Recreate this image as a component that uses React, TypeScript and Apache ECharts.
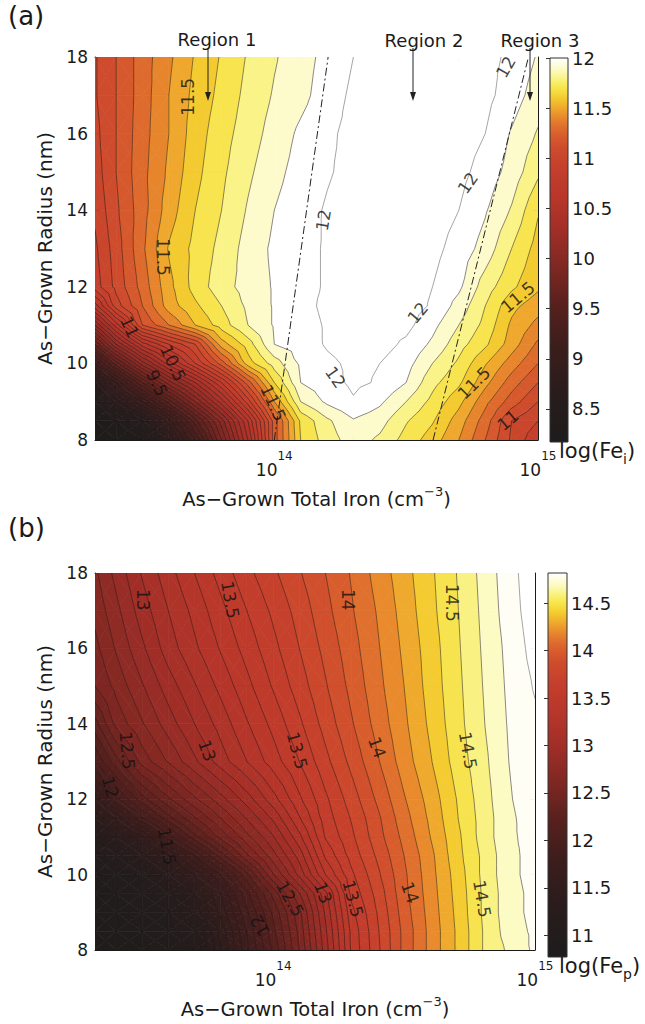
import React, { useEffect, useRef } from "react";
import * as echarts from "echarts";

const FONT = "DejaVu Sans";
const INK = "#1a1a1a";

// Grid columns: log10 of as-grown total iron (cm^-3)
const IRON_EXP = [13.32, 13.4, 13.5, 13.6, 13.7, 13.8, 13.9, 14.0, 14.1, 14.2, 14.3, 14.4, 14.5, 14.6, 14.7, 14.8, 14.9, 15.0];
// Grid rows: as-grown radius (nm)
const RADIUS = [8, 8.5, 9, 9.5, 10, 10.5, 11, 11.5, 12, 13, 14, 15, 16, 17, 18];

// (a) log(Fe_i), one row per radius (bottom to top)
const LOG_FE_I = [
  [8.17, 8.2, 8.3, 8.7, 9.2, 9.8, 10.4, 11.15, 11.6, 11.75, 11.85, 11.78, 11.66, 11.55, 11.4, 11.2, 10.98, 10.82],
  [8.2, 8.3, 8.5, 8.95, 9.45, 9.95, 10.5, 11.15, 11.62, 11.78, 11.89, 11.84, 11.71, 11.61, 11.45, 11.25, 11.0, 10.9],
  [8.35, 8.65, 9.0, 9.45, 9.9, 10.35, 10.85, 11.4, 11.8, 11.92, 11.99, 11.92, 11.8, 11.67, 11.53, 11.33, 11.15, 11.0],
  [8.6, 9.0, 9.5, 9.95, 10.3, 10.7, 11.15, 11.6, 11.9, 11.96, 12.02, 11.99, 11.9, 11.73, 11.62, 11.43, 11.25, 11.1],
  [9.1, 9.55, 10.05, 10.45, 10.8, 11.15, 11.55, 11.75, 11.92, 11.98, 12.02, 12.0, 11.94, 11.8, 11.68, 11.51, 11.35, 11.2],
  [9.6, 10.1, 10.55, 10.8, 11.0, 11.45, 11.65, 11.9, 11.95, 12.01, 12.04, 12.04, 11.98, 11.88, 11.74, 11.62, 11.45, 11.28],
  [10.1, 10.55, 11.1, 11.3, 11.5, 11.65, 11.8, 11.91, 11.96, 12.01, 12.04, 12.05, 12.03, 11.93, 11.8, 11.67, 11.48, 11.37],
  [10.55, 10.95, 11.2, 11.45, 11.58, 11.7, 11.82, 11.91, 11.97, 12.02, 12.05, 12.06, 12.04, 11.99, 11.86, 11.7, 11.53, 11.44],
  [10.85, 11.03, 11.24, 11.47, 11.64, 11.76, 11.84, 11.91, 11.97, 12.01, 12.04, 12.06, 12.04, 12.0, 11.92, 11.75, 11.62, 11.52],
  [10.88, 11.05, 11.28, 11.51, 11.63, 11.73, 11.84, 11.92, 11.97, 12.01, 12.05, 12.07, 12.06, 12.03, 11.96, 11.86, 11.7, 11.56],
  [10.92, 11.08, 11.26, 11.45, 11.6, 11.7, 11.81, 11.9, 11.96, 12.01, 12.05, 12.07, 12.07, 12.05, 12.0, 11.91, 11.79, 11.61],
  [10.95, 11.1, 11.27, 11.42, 11.57, 11.68, 11.78, 11.87, 11.94, 11.99, 12.03, 12.06, 12.07, 12.06, 12.03, 11.96, 11.86, 11.72],
  [10.97, 11.1, 11.26, 11.4, 11.55, 11.66, 11.75, 11.84, 11.92, 11.98, 12.03, 12.06, 12.07, 12.07, 12.05, 12.0, 11.89, 11.79],
  [10.99, 11.1, 11.25, 11.4, 11.53, 11.63, 11.73, 11.81, 11.87, 11.95, 12.02, 12.05, 12.07, 12.07, 12.05, 12.03, 11.95, 11.85],
  [10.99, 11.1, 11.25, 11.38, 11.51, 11.61, 11.71, 11.79, 11.86, 11.93, 12.0, 12.04, 12.06, 12.06, 12.05, 12.03, 11.98, 11.89],
];

// (b) log(Fe_p), one row per radius (bottom to top)
const LOG_FE_P = [
  [10.78, 10.82, 10.88, 10.95, 11.0, 11.39, 11.77, 12.12, 12.5, 12.95, 13.42, 13.68, 13.93, 14.13, 14.31, 14.5, 14.62, 14.72],
  [10.8, 10.84, 10.9, 10.96, 11.07, 11.43, 11.81, 12.17, 12.53, 12.98, 13.43, 13.69, 13.93, 14.13, 14.31, 14.5, 14.65, 14.72],
  [10.82, 10.87, 10.93, 10.99, 11.23, 11.53, 11.88, 12.22, 12.57, 13.02, 13.47, 13.71, 13.95, 14.14, 14.32, 14.51, 14.66, 14.73],
  [10.85, 10.9, 10.95, 11.06, 11.31, 11.6, 11.97, 12.33, 12.69, 13.07, 13.53, 13.74, 13.97, 14.15, 14.33, 14.51, 14.66, 14.73],
  [10.88, 10.94, 11.02, 11.26, 11.5, 11.8, 12.17, 12.59, 12.93, 13.3, 13.58, 13.78, 13.98, 14.16, 14.34, 14.52, 14.67, 14.74],
  [10.95, 11.05, 11.26, 11.48, 11.8, 12.14, 12.48, 12.76, 13.04, 13.42, 13.64, 13.82, 14.0, 14.17, 14.36, 14.52, 14.67, 14.74],
  [11.11, 11.28, 11.48, 11.85, 12.16, 12.43, 12.67, 12.89, 13.17, 13.51, 13.68, 13.86, 14.03, 14.2, 14.37, 14.54, 14.68, 14.74],
  [11.32, 11.51, 11.89, 12.16, 12.39, 12.6, 12.81, 13.02, 13.29, 13.55, 13.71, 13.88, 14.06, 14.22, 14.39, 14.54, 14.68, 14.75],
  [11.52, 11.87, 12.16, 12.38, 12.58, 12.76, 12.95, 13.16, 13.38, 13.58, 13.75, 13.92, 14.09, 14.24, 14.4, 14.55, 14.69, 14.76],
  [12.0, 12.26, 12.54, 12.71, 12.88, 13.05, 13.2, 13.35, 13.5, 13.67, 13.83, 13.99, 14.15, 14.29, 14.44, 14.57, 14.7, 14.77],
  [12.26, 12.53, 12.69, 12.85, 13.0, 13.14, 13.29, 13.43, 13.58, 13.74, 13.89, 14.04, 14.18, 14.32, 14.46, 14.59, 14.71, 14.78],
  [12.5, 12.63, 12.79, 12.95, 13.09, 13.23, 13.37, 13.51, 13.65, 13.79, 13.93, 14.07, 14.2, 14.34, 14.47, 14.6, 14.72, 14.81],
  [12.57, 12.71, 12.88, 13.05, 13.18, 13.31, 13.44, 13.57, 13.7, 13.83, 13.96, 14.09, 14.22, 14.35, 14.48, 14.61, 14.73, 14.84],
  [12.63, 12.77, 12.95, 13.1, 13.23, 13.37, 13.5, 13.62, 13.74, 13.87, 13.99, 14.11, 14.24, 14.37, 14.49, 14.62, 14.75, 14.86],
  [12.68, 12.83, 13.01, 13.16, 13.3, 13.44, 13.57, 13.68, 13.79, 13.9, 14.01, 14.14, 14.26, 14.38, 14.5, 14.63, 14.76, 14.87],
];

// Axis ticks
const IRON_TICKS = [3e13, 4e13, 5e13, 6e13, 7e13, 8e13, 9e13, 1e14, 2e14, 3e14, 4e14, 5e14, 6e14, 7e14, 8e14, 9e14, 1e15];
const IRON_TICK_LABELS = [1e14, 1e15];

// Colorbars
const CBAR_A = [8.17, 12];
const CBAR_A_TICKS = [8.5, 9, 9.5, 10, 10.5, 11, 11.5, 12];
const CBAR_B = [10.77, 14.82];
const CBAR_B_TICKS = [11, 11.5, 12, 12.5, 13, 13.5, 14, 14.5];

// Region boundaries in panel (a) (dash-dot)
const BOUNDARY_1_IRON = [1.0e14, 1.6e14];
const BOUNDARY_2_IRON = [4.0e14, 9.2e14];
const BOUNDARY_RADIUS = [8, 18];

// Contour labels, panel (a)
const LABEL_A_TEXT = ["11.5", "11.5", "11", "10.5", "9.5", "11.5", "12", "12", "12", "12", "12", "11.5", "11.5", "11"];
const LABEL_A_X = [13.673, 13.578, 13.452, 13.616, 13.555, 13.996, 14.186, 14.734, 14.878, 14.544, 14.232, 14.757, 14.924, 14.886];
const LABEL_A_R = [16.96, 12.78, 10.95, 10.01, 9.49, 8.97, 13.74, 14.71, 17.74, 11.32, 9.64, 9.49, 11.73, 8.52];
const LABEL_A_ANGLE = [90, -90, -65, -65, -65, -65, 80, 55, 60, 50, -55, 45, 40, 40];

// Contour labels, panel (b)
const LABEL_B_TEXT = ["13", "13.5", "14", "14.5", "12.5", "12", "13", "13.5", "14", "14.5", "11.5", "12", "12.5", "13", "13.5", "14", "14.5"];
const LABEL_B_X = [13.504, 13.836, 14.286, 14.683, 13.443, 13.378, 13.748, 14.092, 14.397, 14.744, 13.595, 13.95, 14.065, 14.191, 14.305, 14.523, 14.798];
const LABEL_B_R = [17.29, 17.29, 17.29, 17.21, 13.29, 12.32, 13.29, 13.29, 13.37, 13.29, 10.75, 8.65, 9.36, 9.52, 9.36, 9.52, 9.36];
const LABEL_B_ANGLE = [-90, -80, -90, -90, -85, -75, -70, -75, -70, -80, -80, 120, -60, -70, -75, -70, -80];

// colormap (style)
const CMAP = [
  [0.0, 30, 28, 28], [0.12, 40, 28, 28], [0.25, 60, 29, 28], [0.35, 85, 32, 29],
  [0.45, 125, 39, 34], [0.55, 160, 46, 39], [0.63, 182, 54, 42], [0.71, 196, 62, 44],
  [0.77, 207, 77, 45], [0.81, 220, 100, 45], [0.845, 232, 135, 45], [0.875, 240, 175, 45],
  [0.905, 245, 215, 50], [0.935, 248, 238, 100], [0.965, 252, 250, 185], [1.0, 255, 255, 255],
];

function colorAt(t0: number) {
  const t = Math.max(0, Math.min(1, t0));
  for (let k = 0; k < CMAP.length - 1; k++) {
    const a = CMAP[k], b = CMAP[k + 1];
    if (t <= b[0]) {
      const f = (t - a[0]) / (b[0] - a[0]);
      const r = Math.round(a[1] + f * (b[1] - a[1]));
      const g = Math.round(a[2] + f * (b[2] - a[2]));
      const bl = Math.round(a[3] + f * (b[3] - a[3]));
      return `rgb(${r},${g},${bl})`;
    }
  }
  return "rgb(255,255,255)";
}

type P = { x: number; y: number; v: number };

function lerpP(p: P, q: P, level: number): P {
  const t = (level - p.v) / (q.v - p.v);
  return { x: p.x + t * (q.x - p.x), y: p.y + t * (q.y - p.y), v: level };
}

function clipPoly(poly: P[], level: number, above: boolean): P[] {
  const out: P[] = [];
  const n = poly.length;
  for (let k = 0; k < n; k++) {
    const p = poly[k], q = poly[(k + 1) % n];
    const pin = above ? p.v >= level : p.v <= level;
    const qin = above ? q.v >= level : q.v <= level;
    if (pin) out.push(p);
    if (pin !== qin) out.push(lerpP(p, q, level));
  }
  return out;
}

function cellTriangles(api: any, grid: number[][], i: number, j: number): P[][] {
  const pt = (ii: number, jj: number): P => {
    const c = api.coord([IRON_EXP[ii], RADIUS[jj]]);
    return { x: c[0], y: c[1], v: grid[jj][ii] + 1e-6 };
  };
  const a = pt(i, j), b = pt(i + 1, j), c = pt(i + 1, j + 1), d = pt(i, j + 1);
  const m: P = {
    x: (a.x + b.x + c.x + d.x) / 4,
    y: (a.y + b.y + c.y + d.y) / 4,
    v: (a.v + b.v + c.v + d.v) / 4 + 3e-7,
  };
  return [[a, b, m], [b, c, m], [c, d, m], [d, a, m]];
}

function makeFill(grid: number[][], range: number[]) {
  return (params: any, api: any) => {
    const i = api.value(2), j = api.value(3);
    const children: any[] = [];
    for (const tri of cellTriangles(api, grid, i, j)) {
      const vs = tri.map((p) => p.v);
      const lo = Math.min(...vs), hi = Math.max(...vs);
      const k0 = Math.floor(lo * 10), k1 = Math.floor(hi * 10);
      for (let k = k0; k <= k1; k++) {
        const bl = k / 10, bh = (k + 1) / 10;
        let poly = tri;
        if (bl > lo) poly = clipPoly(poly, bl, true);
        if (bh < hi && poly.length >= 3) poly = clipPoly(poly, bh, false);
        if (poly.length < 3) continue;
        const col = colorAt((Math.min(bh, range[1]) - range[0]) / (range[1] - range[0]));
        children.push({
          type: "polygon",
          shape: { points: poly.map((p) => [p.x, p.y]) },
          style: { fill: col, stroke: col, lineWidth: 0.7 },
        });
      }
    }
    return { type: "group", children };
  };
}

function makeLines(grid: number[][], range: number[]) {
  return (params: any, api: any) => {
    const i = api.value(2), j = api.value(3);
    const children: any[] = [];
    for (const tri of cellTriangles(api, grid, i, j)) {
      const vs = tri.map((p) => p.v);
      const lo = Math.min(...vs), hi = Math.max(...vs);
      for (let k = Math.ceil(lo * 10); k <= Math.floor(hi * 10); k++) {
        const L = k / 10;
        if (L <= lo || L >= hi) continue;
        const pts: P[] = [];
        for (let e = 0; e < 3; e++) {
          const p = tri[e], q = tri[(e + 1) % 3];
          if ((p.v - L) * (q.v - L) < 0) pts.push(lerpP(p, q, L));
        }
        if (pts.length < 2) continue;
        const gray = L >= range[1] - 0.05;
        children.push({
          type: "line",
          shape: { x1: pts[0].x, y1: pts[0].y, x2: pts[1].x, y2: pts[1].y },
          style: { stroke: gray ? "#8e8e8e" : "rgba(30,18,18,0.85)", lineWidth: gray ? 0.8 : 0.6 },
        });
      }
    }
    return { type: "group", children };
  };
}

function cells() {
  const out: number[][] = [];
  for (let j = 0; j < RADIUS.length - 1; j++) {
    for (let i = 0; i < IRON_EXP.length - 1; i++) {
      out.push([(IRON_EXP[i] + IRON_EXP[i + 1]) / 2, (RADIUS[j] + RADIUS[j + 1]) / 2, i, j]);
    }
  }
  return out;
}

const X_MIN = IRON_EXP[0];
const X_MAX = IRON_EXP[IRON_EXP.length - 1];
const axisInk = { color: INK, width: 1 };

function bottomX(gridIndex: number) {
  return {
    type: "value", gridIndex, position: "bottom", min: X_MIN, max: X_MAX,
    axisLine: { show: true, onZero: false, lineStyle: axisInk },
    axisTick: { show: true, inside: true, length: 4, customValues: IRON_TICKS.map((v) => Math.log10(v)), lineStyle: axisInk },
    axisLabel: {
      show: true, customValues: IRON_TICK_LABELS.map((v) => Math.log10(v)), margin: 10,
      formatter: (v: number) => `{b|10}{s|${Math.round(v)}}`,
      rich: {
        b: { fontFamily: FONT, fontSize: 17, color: INK, lineHeight: 28, verticalAlign: "bottom" },
        s: { fontFamily: FONT, fontSize: 12, color: INK, lineHeight: 14, verticalAlign: "top" },
      },
    },
    splitLine: { show: false },
    name: "As−Grown Total Iron (cm{s|−3})",
    nameLocation: "middle", nameGap: 45,
    nameTextStyle: {
      fontFamily: FONT, fontSize: 19.5, color: INK, lineHeight: 28,
      rich: { s: { fontFamily: FONT, fontSize: 13, color: INK, lineHeight: 14, verticalAlign: "top" } },
    },
  };
}

function topX(gridIndex: number) {
  return {
    type: "value", gridIndex, position: "top", min: X_MIN, max: X_MAX,
    axisLine: { show: true, onZero: false, lineStyle: axisInk },
    axisTick: { show: true, inside: true, length: 4, customValues: IRON_TICKS.map((v) => Math.log10(v)), lineStyle: axisInk },
    axisLabel: { show: false },
    splitLine: { show: false },
  };
}

function leftY(gridIndex: number) {
  return {
    type: "value", gridIndex, position: "left", min: 8, max: 18, interval: 2,
    axisLine: { show: true, onZero: false, lineStyle: axisInk },
    axisTick: { show: true, inside: true, length: 5, lineStyle: axisInk },
    axisLabel: { fontFamily: FONT, fontSize: 17, color: INK, margin: 7 },
    splitLine: { show: false },
    name: "As−Grown Radius (nm)", nameLocation: "middle", nameGap: 38, nameRotate: 90,
    nameTextStyle: { fontFamily: FONT, fontSize: 20, color: INK },
  };
}

function rightY(gridIndex: number) {
  return {
    type: "value", gridIndex, position: "right", min: 8, max: 18, interval: 2,
    axisLine: { show: true, onZero: false, lineStyle: axisInk },
    axisTick: { show: true, inside: true, length: 5, lineStyle: axisInk },
    axisLabel: { show: false },
    splitLine: { show: false },
  };
}

function cbarX(gridIndex: number) {
  return { type: "value", gridIndex, min: 0, max: 1, show: false };
}

function cbarY(gridIndex: number, range: number[], ticks: number[], pos: string) {
  return {
    type: "value", gridIndex, position: pos, min: range[0], max: range[1],
    axisLine: { show: false },
    axisTick: { show: true, inside: true, length: 4, customValues: ticks, lineStyle: { color: "#333", width: 1 } },
    axisLabel: pos === "right"
      ? { show: true, customValues: ticks, fontFamily: FONT, fontSize: 18, color: INK, margin: 4 }
      : { show: false },
    splitLine: { show: false },
  };
}

function colorbarSeries(xi: number, yi: number, range: number[]) {
  return {
    type: "custom", xAxisIndex: xi, yAxisIndex: yi, silent: true, z: 2,
    data: [[0.5, (range[0] + range[1]) / 2]],
    renderItem: (params: any, api: any) => {
      const p0 = api.coord([0, range[1]]);
      const p1 = api.coord([1, range[0]]);
      const stops: any[] = [];
      for (let s = 0; s <= 60; s++) stops.push({ offset: s / 60, color: colorAt(1 - s / 60) });
      return {
        type: "rect",
        shape: { x: p0[0], y: p0[1], width: p1[0] - p0[0], height: p1[1] - p0[1] },
        style: { fill: new echarts.graphic.LinearGradient(0, 0, 0, 1, stops), stroke: "#333", lineWidth: 1 },
      };
    },
  };
}

function contourSeries(xi: number, yi: number, grid: number[][], range: number[]) {
  const data = cells();
  return [
    {
      type: "custom", xAxisIndex: xi, yAxisIndex: yi, silent: true, clip: true, z: 1,
      dimensions: ["x", "y", "i", "j"], encode: { x: 0, y: 1 },
      data, renderItem: makeFill(grid, range),
    },
    {
      type: "custom", xAxisIndex: xi, yAxisIndex: yi, silent: true, clip: true, z: 2,
      dimensions: ["x", "y", "i", "j"], encode: { x: 0, y: 1 },
      data, renderItem: makeLines(grid, range),
    },
  ];
}

function labelSeries(xi: number, yi: number, text: string[], xs: number[], rs: number[], ang: number[]) {
  return {
    type: "scatter", xAxisIndex: xi, yAxisIndex: yi, silent: true, z: 6,
    symbolSize: 1, itemStyle: { color: "transparent" },
    data: text.map((t, k) => ({ name: t, value: [xs[k], rs[k]], label: { rotate: ang[k] } })),
    label: { show: true, position: "inside", formatter: "{b}", fontFamily: FONT, fontSize: 17, color: "#111" },
  };
}

function boundarySeries(iron: number[]) {
  return {
    type: "line", xAxisIndex: 0, yAxisIndex: 0, silent: true, z: 5, symbol: "none",
    data: iron.map((v, k) => [Math.log10(v), BOUNDARY_RADIUS[k]]),
    lineStyle: { color: "#222", width: 1, type: [8, 3, 2, 3] },
  };
}

function arrow(x: number, y1: number, y2: number) {
  return {
    type: "group", z: 100,
    children: [
      { type: "line", z: 100, shape: { x1: x, y1, x2: x, y2: y2 - 6 }, style: { stroke: "#222", lineWidth: 1 } },
      { type: "polygon", z: 100, shape: { points: [[x - 3, y2 - 9], [x + 3, y2 - 9], [x, y2]] }, style: { fill: "#222" } },
    ],
  };
}

function txt(x: number, y: number, text: string, size: number, align = "center", rich?: any) {
  return {
    type: "text", x, y, z: 100,
    style: {
      text, fontFamily: FONT, fontSize: size, fill: INK, align, verticalAlign: "middle",
      lineHeight: size + 8, rich,
    },
  };
}

function buildOption() {
  const subRich = { sub: { fontFamily: FONT, fontSize: 14, fill: INK, lineHeight: 14, verticalAlign: "bottom" } };
  return {
    animation: false,
    backgroundColor: "#ffffff",
    grid: [
      { left: 95, top: 57, width: 443, height: 383 },
      { left: 550, top: 58, width: 18, height: 384 },
      { left: 95, top: 573, width: 440, height: 382 },
      { left: 548, top: 573, width: 19, height: 384 },
    ],
    xAxis: [bottomX(0), topX(0), cbarX(1), bottomX(2), topX(2), cbarX(3)],
    yAxis: [
      leftY(0), rightY(0), cbarY(1, CBAR_A, CBAR_A_TICKS, "right"), cbarY(1, CBAR_A, CBAR_A_TICKS, "left"),
      leftY(2), rightY(2), cbarY(3, CBAR_B, CBAR_B_TICKS, "right"), cbarY(3, CBAR_B, CBAR_B_TICKS, "left"),
    ],
    series: [
      ...contourSeries(0, 0, LOG_FE_I, CBAR_A),
      boundarySeries(BOUNDARY_1_IRON),
      boundarySeries(BOUNDARY_2_IRON),
      labelSeries(0, 0, LABEL_A_TEXT, LABEL_A_X, LABEL_A_R, LABEL_A_ANGLE),
      colorbarSeries(2, 2, CBAR_A),
      ...contourSeries(3, 4, LOG_FE_P, CBAR_B),
      labelSeries(3, 4, LABEL_B_TEXT, LABEL_B_X, LABEL_B_R, LABEL_B_ANGLE),
      colorbarSeries(5, 6, CBAR_B),
    ],
    graphic: [
      txt(8, 16, "(a)", 26, "left"),
      txt(8, 528, "(b)", 26, "left"),
      txt(217, 39, "Region 1", 18),
      txt(424, 40, "Region 2", 18),
      txt(540, 40, "Region 3", 18),
      arrow(208, 48, 101),
      arrow(413, 48, 101),
      arrow(530, 48, 101),
      txt(559, 451, "log(Fe{sub|i})", 21, "left", subRich),
      txt(559, 966, "log(Fe{sub|p})", 21, "left", subRich),
    ],
  };
}

export default function App() {
  const ref = useRef<HTMLDivElement>(null);
  useEffect(() => {
    const chart = echarts.init(ref.current as HTMLDivElement, undefined, { renderer: "svg" });
    chart.setOption(buildOption() as any);
    return () => chart.dispose();
  }, []);
  return (
    <div
      ref={ref}
      style={{ position: "absolute", left: 0, top: 0, width: 645, height: 1024, background: "#fff" }}
    />
  );
}
